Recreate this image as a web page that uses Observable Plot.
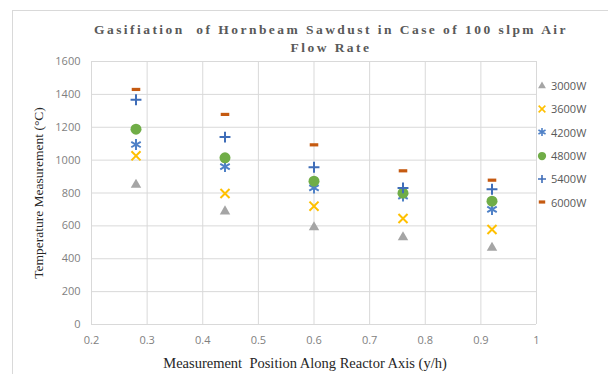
<!DOCTYPE html>
<html>
<head>
<meta charset="utf-8">
<script src="https://cdn.jsdelivr.net/npm/d3@7"></script>
<script src="https://cdn.jsdelivr.net/npm/@observablehq/plot@0.6"></script>
<style>
  html, body { margin: 0; padding: 0; background: #fff; }
  #wrap { position: relative; width: 608px; height: 374px; overflow: hidden; background: #fff; }
  #frame { position: absolute; left: 12px; top: 10px; width: 640px; height: 420px; border: 1px solid #d9d9d9; box-sizing: border-box; z-index: 2; pointer-events: none; }
  #title { position: absolute; left: 8px; top: 21px; width: 646px; text-align: center; font-family: "Liberation Serif", "DejaVu Serif", serif; font-size: 13.5px; font-weight: bold; letter-spacing: 2.45px; color: #595959; line-height: 18px; z-index: 3; }
  #chart { position: absolute; left: 0; top: 0; }
  #legend { position: absolute; left: 536px; top: 74px; font-family: "Open Sans", "Liberation Sans", sans-serif; font-size: 11px; color: #595959; z-index: 3; }
  .li { display: flex; align-items: center; height: 23.3px; }
  .li svg { margin-right: 3px; }
  g[aria-label="x-axis label"] text { font-family: "Liberation Serif", "DejaVu Serif", serif; font-size: 14.5px; fill: #262626; }
  g[aria-label="y-axis label"] text { font-family: "Liberation Serif", "DejaVu Serif", serif; font-size: 13.5px; fill: #262626; }
  g[aria-label="x-axis tick label"] text, g[aria-label="y-axis tick label"] text { font-family: "Open Sans", "Liberation Sans", sans-serif; font-size: 11px; fill: #7f7f7f; }
</style>
</head>
<body>
<div id="wrap">
  <div id="chart"></div>
  <div id="frame"></div>
  <div id="title">Gasifiation&nbsp; of Hornbeam Sawdust in Case of 100 slpm Air<br>Flow Rate</div>
  <div id="legend"></div>
</div>
<script>
// Data
const positions = [0.28, 0.44, 0.6, 0.76, 0.92];
const seriesNames = ["3000W", "3600W", "4200W", "4800W", "5400W", "6000W"];
const t3000 = [850, 688, 592, 531, 467];
const t3600 = [1026, 797, 720, 645, 578];
const t4200 = [1095, 961, 831, 781, 700];
const t4800 = [1188, 1014, 872, 799, 750];
const t5400 = [1367, 1140, 957, 831, 823];
const t6000 = [1430, 1278, 1093, 935, 878];
const xTicks = [0.2, 0.3, 0.4, 0.5, 0.6, 0.7, 0.8, 0.9, 1];
const yTicks = [0, 200, 400, 600, 800, 1000, 1200, 1400, 1600];

const seriesValues = [t3000, t3600, t4200, t4800, t5400, t6000];

const dashSymbol = {
  draw(context, size) {
    const w = Math.sqrt(size) * 1.15, h = 3.2;
    context.rect(-w / 2, -h / 2, w, h);
  }
};
const starSymbol = {
  draw(context, size) {
    const r = Math.sqrt(size) * 0.62;
    context.moveTo(0, -r); context.lineTo(0, r);
    const a = Math.PI / 6;
    const dx = r * Math.cos(a), dy = r * Math.sin(a);
    context.moveTo(-dx, -dy); context.lineTo(dx, dy);
    context.moveTo(-dx, dy); context.lineTo(dx, -dy);
  }
};

const styles = [
  {symbol: d3.symbolTriangle2, color: "#a5a5a5", filled: true, r: 5},
  {symbol: d3.symbolTimes, color: "#ffc000", filled: false, r: 4.2},
  {symbol: starSymbol, color: "#4f81c7", filled: false, r: 5},
  {symbol: d3.symbolCircle, color: "#70ad47", filled: true, r: 5.5},
  {symbol: d3.symbolPlus, color: "#3f6db8", filled: false, r: 3.6},
  {symbol: dashSymbol, color: "#c55a11", filled: true, r: 4.2}
];

const rows = [];
seriesNames.forEach((name, i) => {
  positions.forEach((p, j) => rows.push({series: name, idx: i, x: p, y: seriesValues[i][j]}));
});

const dotMarks = styles.map((s, i) => Plot.dot(rows.filter(d => d.idx === i), {
  x: "x", y: "y", symbol: () => s.symbol, r: s.r,
  fill: s.filled ? s.color : "none",
  stroke: s.filled ? "none" : s.color,
  strokeWidth: s.filled ? 0 : 2
}));

const chart = Plot.plot({
  width: 608,
  height: 374,
  marginLeft: 91,
  marginRight: 72,
  marginTop: 61,
  marginBottom: 50,
  x: {domain: [0.2, 1]},
  y: {domain: [0, 1600]},
  symbol: {type: "identity"},
  marks: [
    Plot.gridX(xTicks, {stroke: "#d9d9d9", strokeOpacity: 1}),
    Plot.gridY(yTicks, {stroke: "#d9d9d9", strokeOpacity: 1}),
    Plot.axisX(xTicks, {tickSize: 0, tickPadding: 12, tickFormat: d => String(d), label: "Measurement  Position Along Reactor Axis (y/h)", labelAnchor: "center", labelOffset: 43}),
    Plot.axisY(yTicks, {tickSize: 0, tickPadding: 11, tickFormat: d => String(d), label: "Temperature Measurement (°C)", labelAnchor: "center", labelOffset: 58}),
    ...dotMarks
  ]
});
chart.querySelectorAll('g[aria-label="x-axis label"] text, g[aria-label="y-axis label"] text').forEach(t => {
  t.textContent = t.textContent.replace(/\s*[→↑←↓]\s*/g, "");
  t.setAttribute("xml:space", "preserve");
  t.style.whiteSpace = "pre";
});
chart.querySelectorAll('g[aria-label="x-axis label"]').forEach(g => {
  const tr = g.getAttribute("transform") || "";
  g.setAttribute("transform", tr + " translate(-9,0)");
});
document.getElementById("chart").appendChild(chart);

// Legend
const legend = d3.select("#legend");
seriesNames.forEach((name, i) => {
  const s = styles[i];
  const row = legend.append("div").attr("class", "li");
  const svg = row.append("svg").attr("width", 12).attr("height", 12);
  const rr = s.r * 0.75;
  svg.append("path")
    .attr("transform", "translate(6,6)")
    .attr("d", d3.symbol(s.symbol, Math.PI * rr * rr)())
    .attr("fill", s.filled ? s.color : "none")
    .attr("stroke", s.filled ? "none" : s.color)
    .attr("stroke-width", s.filled ? 0 : 1.6);
  row.append("span").text(name);
});
</script>
</body>
</html>
